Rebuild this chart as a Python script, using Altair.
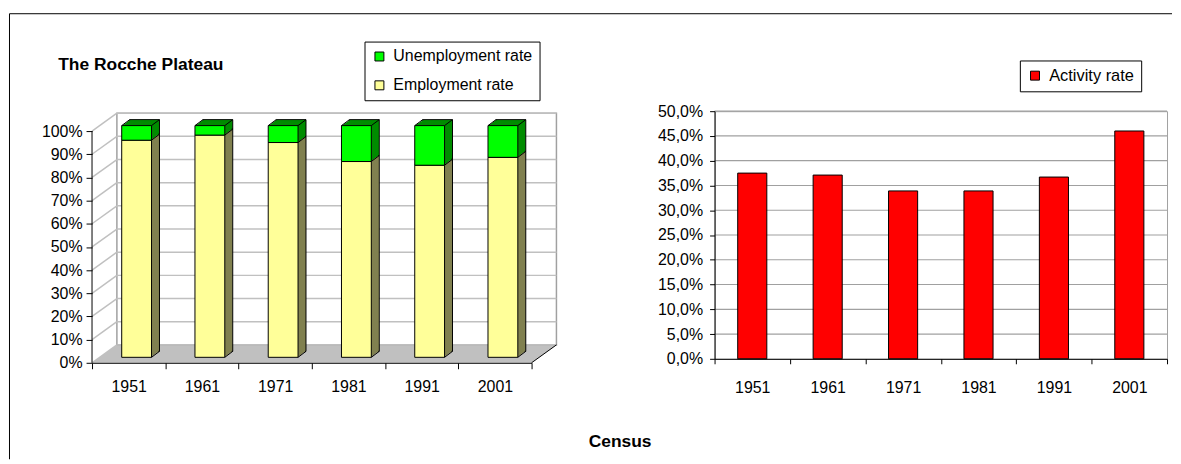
import altair as alt
import pandas as pd

# ---------------- data ----------------
YEARS = ["1951", "1961", "1971", "1981", "1991", "2001"]
EMPLOYMENT = [93.7, 95.9, 92.7, 84.5, 82.9, 86.3]
UNEMPLOYMENT = [6.3, 4.1, 7.3, 15.5, 17.1, 13.7]
ACTIVITY = [37.5, 37.1, 33.9, 33.9, 36.7, 46.0]
LEFT_TICKS = [0, 10, 20, 30, 40, 50, 60, 70, 80, 90, 100]
RIGHT_TICKS = [0, 5, 10, 15, 20, 25, 30, 35, 40, 45, 50]
SERIES_LEFT = ["Unemployment rate", "Employment rate"]
SERIES_RIGHT = "Activity rate"
TITLE_LEFT = "The Rocche Plateau"
X_TITLE = "Census"

# ---------------- layout / style ----------------
W1, H1 = 442, 253
PX_PER_PCT = 2.33
YMAX1 = H1 / PX_PER_PCT
WALL_DX, WALL_DY = 25, 18
WALL_DYP = WALL_DY / PX_PER_PCT
BAR_REL1 = 0.407
BW1 = W1 / len(YEARS) * BAR_REL1
FACE_DX, FACE_DY = 8, -5.5
DEPTH_X, DEPTH_Y = 8, -6
N_STEPS = 8
W2, H2 = 455, 249
BAR_REL2 = 0.386
SPACING = 184
FONT = "Liberation Sans"
FRONT_COLORS = ["#00FF00", "#FFFF99"]
SIDE_COLORS = {"Unemployment rate": "#008C00", "Employment rate": "#808050"}

# ---------------- tables ----------------
bars = pd.DataFrame(
    [{"year": y, "series": SERIES_LEFT[1], "lo": 0.0, "hi": e} for y, e in zip(YEARS, EMPLOYMENT)]
    + [{"year": y, "series": SERIES_LEFT[0], "lo": e, "hi": e + u}
       for y, e, u in zip(YEARS, EMPLOYMENT, UNEMPLOYMENT)]
)
edges_right = pd.DataFrame(
    [{"year": y, "v": v} for y, e, u in zip(YEARS, EMPLOYMENT, UNEMPLOYMENT) for v in (0.0, e, e + u)]
)
edges_left = pd.DataFrame([{"year": y, "v": e + u} for y, e, u in zip(YEARS, EMPLOYMENT, UNEMPLOYMENT)])
ticks1 = pd.DataFrame({"v": LEFT_TICKS})
ticks2 = pd.DataFrame({"v": RIGHT_TICKS[1:]})
floor_df = pd.DataFrame({
    "px": [0, WALL_DX, W1, W1 + WALL_DX],
    "lo": [0, 0, 0, WALL_DYP],
    "hi": [0, WALL_DYP, WALL_DYP, WALL_DYP],
})
right_df = pd.DataFrame({"year": YEARS, "rate": ACTIVITY, "series": SERIES_RIGHT})
one = pd.DataFrame({"t": [TITLE_LEFT], "c": [X_TITLE]})

# ---------------- left panel ----------------
YS1 = alt.Scale(domain=[0, YMAX1], nice=False, zero=True)
YAX1 = alt.Axis(values=LEFT_TICKS, labelExpr="datum.value + '%'", domain=False, grid=False,
                tickSize=6, tickColor="black", labelPadding=4, labelFontSize=16,
                labelColor="black", title=None, zindex=1)
XS1 = alt.Scale(paddingInner=0, paddingOuter=0)
XAX1 = alt.Axis(title=None, labelAngle=0, tickBand="extent", tickSize=6, tickColor="black",
                domainColor="black", labelFontSize=16, labelColor="black", labelPadding=10,
                grid=False, zindex=1)


def x1():
    return alt.X("year:N", scale=XS1, axis=XAX1, bandPosition=0.5)


def y1(field):
    return alt.Y(field, type="quantitative", scale=YS1, axis=YAX1)


color1 = alt.Color("series:N", scale=alt.Scale(domain=SERIES_LEFT, range=FRONT_COLORS),
                   legend=alt.Legend(title=None, orient="none", legendX=274, legendY=-70,
                                     fillColor="white", strokeColor="black", padding=7,
                                     symbolType="square", symbolSize=81, symbolStrokeColor="black",
                                     symbolStrokeWidth=1, labelFontSize=16, labelOffset=6,
                                     rowPadding=13, labelColor="black"))

layers = []
# back wall
layers.append(alt.Chart(one).mark_rect(fill="white", stroke="#A0A0A0", strokeWidth=1.5).encode(
    x=alt.value(WALL_DX), x2=alt.value(W1 + WALL_DX),
    y=alt.datum(100 + WALL_DYP, type="quantitative", scale=YS1, axis=YAX1), y2=alt.datum(WALL_DYP)))
# wall gridlines
layers.append(alt.Chart(ticks1).mark_rule(color="#C0C0C0", strokeWidth=1.5, yOffset=-WALL_DY).encode(
    x=alt.value(WALL_DX), x2=alt.value(W1 + WALL_DX), y=y1("v")))
# side wall diagonals
layers.append(alt.Chart(ticks1).mark_rule(color="#C0C0C0", strokeWidth=1.5, y2Offset=-WALL_DY).encode(
    x=alt.value(0), x2=alt.value(WALL_DX), y=y1("v"), y2=alt.Y2("v")))
# floor right edge
layers.append(alt.Chart(one).mark_rule(color="black", strokeWidth=1).encode(
    x=alt.value(W1), x2=alt.value(W1 + WALL_DX), y=alt.datum(0, type="quantitative", scale=YS1, axis=YAX1),
    y2=alt.datum(WALL_DYP)))
# bar depth (extrusion), drawn back to front
for k in range(N_STEPS, 0, -1):
    f = k / N_STEPS
    ox = FACE_DX + DEPTH_X * f
    oy = FACE_DY + DEPTH_Y * f
    kw = dict(stroke="black", strokeWidth=1) if k == N_STEPS else dict(strokeWidth=0)
    for s in SERIES_LEFT:
        layers.append(alt.Chart(bars).transform_filter(alt.datum.series == s).mark_bar(
            width=alt.RelativeBandSize(BAR_REL1), xOffset=ox, yOffset=oy, y2Offset=oy,
            fill=SIDE_COLORS[s], **kw).encode(x=x1(), y=y1("hi"), y2=alt.Y2("lo")))
# front faces
layers.append(alt.Chart(bars).mark_bar(width=alt.RelativeBandSize(BAR_REL1), xOffset=FACE_DX,
                                       yOffset=FACE_DY, y2Offset=FACE_DY, stroke="black",
                                       strokeWidth=1).encode(
    x=x1(), y=y1("hi"), y2=alt.Y2("lo"), color=color1))
# diagonal edges
layers.append(alt.Chart(edges_right).mark_rule(
    color="black", strokeWidth=1, xOffset=FACE_DX + BW1 / 2, x2Offset=FACE_DX + BW1 / 2 + DEPTH_X,
    yOffset=FACE_DY, y2Offset=FACE_DY + DEPTH_Y).encode(
    x=x1(), x2=alt.X2("year", bandPosition=0.5), y=y1("v"), y2=alt.Y2("v")))
layers.append(alt.Chart(edges_left).mark_rule(
    color="black", strokeWidth=1, xOffset=FACE_DX - BW1 / 2, x2Offset=FACE_DX - BW1 / 2 + DEPTH_X,
    yOffset=FACE_DY, y2Offset=FACE_DY + DEPTH_Y).encode(
    x=x1(), x2=alt.X2("year", bandPosition=0.5), y=y1("v"), y2=alt.Y2("v")))
# front value axis line
layers.append(alt.Chart(one).mark_rule(color="black", strokeWidth=1).encode(
    x=alt.value(0), y=alt.datum(0, type="quantitative", scale=YS1, axis=YAX1), y2=alt.datum(100)))
# texts
layers.append(alt.Chart(one).mark_text(align="left", baseline="alphabetic", fontWeight="bold",
                                       fontSize=17.5, color="black").encode(
    x=alt.value(-34), y=alt.value(-41), text="t:N"))
layers.append(alt.Chart(one).mark_text(align="center", baseline="alphabetic", fontWeight="bold",
                                       fontSize=17.5, color="black").encode(
    x=alt.value(531), y=alt.value(338), text="c:N"))
# outer frame (top and left edges)
layers.append(alt.Chart(one).mark_rule(color="black", strokeWidth=1).encode(
    x=alt.value(-83), x2=alt.value(1086), y=alt.value(-98)))
layers.append(alt.Chart(one).mark_rule(color="black", strokeWidth=1).encode(
    x=alt.value(-83), y=alt.value(-98), y2=alt.value(350)))

inner = alt.layer(*layers)

floor = alt.Chart(floor_df).mark_area(color="#C0C0C0").encode(
    x=alt.X("px:Q", scale=alt.Scale(domain=[0, W1], nice=False, zero=False), axis=None),
    y=y1("hi"), y2=alt.Y2("lo"))

left = alt.layer(floor, inner).resolve_scale(x="independent").properties(
    width=W1, height=H1, view=alt.ViewBackground(stroke=None))

# ---------------- right panel ----------------
YS2 = alt.Scale(domain=[0, 50], nice=False)
YAX2 = alt.Axis(values=RIGHT_TICKS, labelExpr="replace(format(datum.value, '.1f'), '.', ',') + '%'",
                grid=False, domainColor="black", tickColor="black", tickSize=5, labelPadding=7,
                labelFontSize=16, labelColor="black", title=None, zindex=1)
XAX2 = alt.Axis(title=None, labelAngle=0, tickBand="extent", tickSize=5, tickColor="black",
                domainColor="black", labelFontSize=16, labelColor="black", labelPadding=16,
                grid=False, zindex=1)

grid2 = alt.Chart(ticks2).mark_rule(color="#A0A0A0", strokeWidth=1.2).encode(
    y=alt.Y("v:Q", scale=YS2, axis=YAX2))
bars2 = alt.Chart(right_df).mark_bar(width=alt.RelativeBandSize(BAR_REL2), stroke="black",
                                     strokeWidth=1).encode(
    x=alt.X("year:N", scale=alt.Scale(paddingInner=0, paddingOuter=0), axis=XAX2),
    y=alt.Y("rate:Q", scale=YS2, axis=YAX2),
    color=alt.Color("series:N", scale=alt.Scale(domain=[SERIES_RIGHT], range=["#FF0000"]),
                    legend=alt.Legend(title=None, orient="none", legendX=307, legendY=-51,
                                      fillColor="white", strokeColor="black", padding=7,
                                      symbolType="square", symbolSize=81, symbolStrokeColor="black",
                                      symbolStrokeWidth=1, labelFontSize=16.5, labelOffset=6,
                                      labelColor="black")))
right = alt.layer(grid2, bars2).properties(width=W2, height=H2,
                                           view=alt.ViewBackground(stroke="#A0A0A0"))

chart = alt.hconcat(left, right, spacing=SPACING, bounds="flush").resolve_scale(
    color="independent", x="independent", y="independent"
).resolve_legend(color="independent").properties(
    padding={"left": 0.5, "top": 3.5, "right": 0, "bottom": 0},
    background="white",
).configure(font=FONT)

chart.save("out.html", embed_options={"renderer": "svg", "actions": False})
